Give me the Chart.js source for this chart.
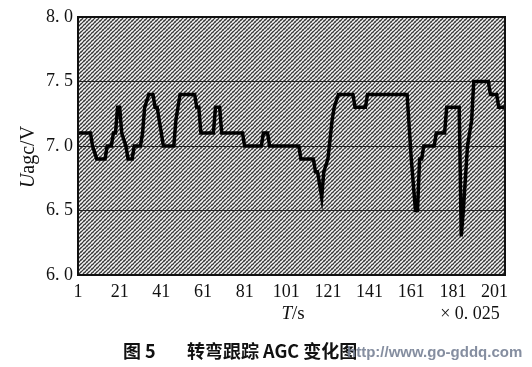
<!DOCTYPE html>
<html>
<head>
<meta charset="utf-8">
<script src="https://cdn.jsdelivr.net/npm/chart.js@4/dist/chart.umd.min.js"></script>
<style>
  html, body { margin: 0; padding: 0; background: #fff; }
</style>
</head>
<body>
<canvas id="agc" width="532" height="367"></canvas>
<script>
// sample index (x 0.025 s) and AGC voltage
const tIdx = [1, 7, 8, 10, 14, 15, 17, 18, 19, 20, 21, 22, 24, 25, 27, 28, 31, 32, 33, 35, 37, 38, 39, 40, 41, 42,
  47, 48, 49, 50, 57, 58, 59, 60, 66, 67, 69, 70, 80, 81, 89, 90, 92, 93, 107, 108, 114, 115, 116, 118, 119, 121,
  123, 124, 126, 133, 134, 139, 140, 159, 161, 163, 164, 165, 166, 167, 172, 173, 177, 178, 184, 185, 186, 188,
  190, 191, 198, 199, 202, 203, 206];
const uagc = [7.1, 7.1, 7.0, 6.9, 6.9, 7.0, 7.0, 7.1, 7.1, 7.3, 7.3, 7.1, 7.0, 6.9, 6.9, 7.0, 7.0, 7.1, 7.3, 7.4, 7.4, 7.3, 7.3, 7.2, 7.1, 7.0,
  7.0, 7.2, 7.3, 7.4, 7.4, 7.3, 7.3, 7.1, 7.1, 7.3, 7.3, 7.1, 7.1, 7.0, 7.0, 7.1, 7.1, 7.0, 7.0, 6.9, 6.9, 6.8, 6.8, 6.6, 6.8, 6.9,
  7.2, 7.3, 7.4, 7.4, 7.3, 7.3, 7.4, 7.4, 6.9, 6.5, 6.5, 6.9, 6.9, 7.0, 7.0, 7.1, 7.1, 7.3, 7.3, 6.3, 6.5, 7.0,
  7.2, 7.5, 7.5, 7.4, 7.4, 7.3, 7.3];

const xTicks = [1, 21, 41, 61, 81, 101, 121, 141, 161, 181, 201];
const yTicks = [6.0, 6.5, 7.0, 7.5, 8.0];

const serif = '"Liberation Serif", "DejaVu Serif", serif';

// gray halftone-ish tile for the plot background
function makeTile() {
  const c = document.createElement('canvas');
  c.width = 8; c.height = 8;
  const g = c.getContext('2d');
  for (let y = 0; y < 8; y++) {
    for (let x = 0; x < 8; x++) {
      let col = '#b4b4b4';
      const d = (x + y) % 4;
      if (d == 0) col = '#3a3a3a';
      else if (d == 2) col = '#f4f4f4';
      else if ((x * 3 + y * 5) % 7 < 3) col = '#808080';
      g.fillStyle = col;
      g.fillRect(x, y, 1, 1);
    }
  }
  return c;
}

const decor = {
  id: 'decor',
  beforeDraw(chart) {
    const { ctx, chartArea: a } = chart;
    ctx.save();
    ctx.fillStyle = ctx.createPattern(makeTile(), 'repeat');
    ctx.fillRect(a.left, a.top, a.right - a.left, a.bottom - a.top);
    ctx.restore();
  },
  afterDraw(chart) {
    const { ctx, chartArea: a } = chart;
    ctx.save();
    ctx.strokeStyle = '#111';
    ctx.lineWidth = 2;
    ctx.strokeRect(a.left, a.top, a.right - a.left, a.bottom - a.top);

    ctx.fillStyle = '#111';
    ctx.textBaseline = 'middle';

    // x axis title: italic T + "/s"
    ctx.font = 'italic 19px ' + serif;
    const wT = ctx.measureText('T').width;
    ctx.font = '19px ' + serif;
    const wS = ctx.measureText('/s').width;
    let x0 = 293 - (wT + wS) / 2;
    ctx.textAlign = 'left';
    ctx.font = 'italic 19px ' + serif;
    ctx.fillText('T', x0, 314);
    ctx.font = '19px ' + serif;
    ctx.fillText('/s', x0 + wT, 314);

    ctx.font = '18px ' + serif;
    ctx.textAlign = 'center';
    ctx.fillText('× 0. 025', 470, 314);

    // y axis title, rotated
    ctx.save();
    ctx.translate(29, 157);
    ctx.rotate(-Math.PI / 2);
    ctx.font = 'italic 20px ' + serif;
    const wU = ctx.measureText('U').width;
    ctx.font = '20px ' + serif;
    const wR = ctx.measureText('agc/V').width;
    const y0 = -(wU + wR) / 2;
    ctx.textAlign = 'left';
    ctx.font = 'italic 20px ' + serif;
    ctx.fillText('U', y0, 0);
    ctx.font = '20px ' + serif;
    ctx.fillText('agc/V', y0 + wU, 0);
    ctx.restore();

    // caption
    ctx.textAlign = 'left';
    ctx.font = 'bold 18px "Noto Sans CJK SC", sans-serif';
    ctx.fillText('图 5', 123, 351);
    ctx.fillText('转弯跟踪 AGC 变化图', 187, 351);

    // watermark
    ctx.font = 'bold 15px "Liberation Sans", Arial, sans-serif';
    ctx.fillStyle = 'rgba(120,130,150,0.9)';
    ctx.fillText('http://www.go-gddq.com', 347, 353);
    ctx.restore();
  }
};

new Chart(document.getElementById('agc'), {
  type: 'line',
  data: {
    datasets: [{
      data: tIdx.map((t, i) => ({ x: t, y: uagc[i] })),
      borderColor: '#000',
      borderWidth: 3.5,
      pointRadius: 0,
      tension: 0,
      fill: false
    }]
  },
  options: {
    responsive: false,
    animation: false,
    layout: { padding: { top: 17, right: 27, left: 0, bottom: 0 } },
    plugins: { legend: { display: false }, tooltip: { enabled: false } },
    scales: {
      x: {
        type: 'linear',
        min: 1,
        max: 206,
        afterBuildTicks: s => { s.ticks = xTicks.map(v => ({ value: v })); },
        afterFit: s => { s.height = 92; },
        grid: { display: false, drawTicks: false },
        border: { display: false },
        ticks: { color: '#111', font: { family: serif, size: 18 }, padding: 6, maxRotation: 0, autoSkip: false }
      },
      y: {
        min: 6,
        max: 8,
        afterBuildTicks: s => { s.ticks = yTicks.map(v => ({ value: v })); },
        afterFit: s => { s.width = 78; },
        grid: { color: '#222', lineWidth: 1, drawTicks: false },
        border: { display: false },
        ticks: {
          color: '#111',
          font: { family: serif, size: 18 },
          padding: 5,
          callback: v => v.toFixed(1).replace('.', '. ')
        }
      }
    }
  },
  plugins: [decor]
});
</script>
</body>
</html>
